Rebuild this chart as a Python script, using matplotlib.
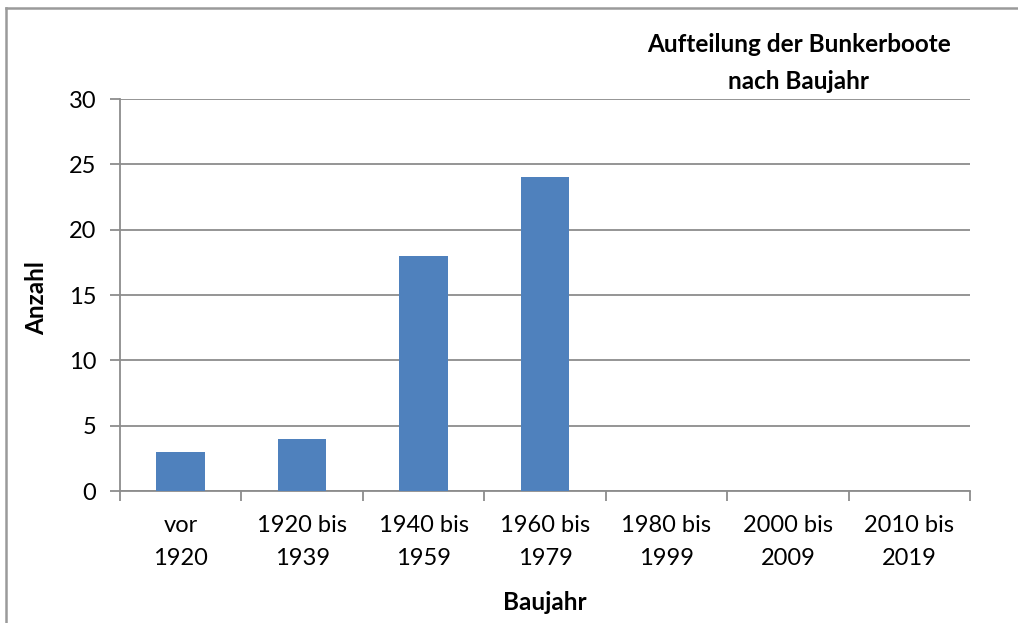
import matplotlib.pyplot as plt
import numpy as np
from matplotlib.lines import Line2D

# Bunkerboote nach Baujahr
categories = ['vor\n1920', '1920 bis\n1939', '1940 bis\n1959', '1960 bis\n1979',
              '1980 bis\n1999', '2000 bis\n2009', '2010 bis\n2019']
counts = [3, 4, 18, 24, 0, 0, 0]
y_ticks = [0, 5, 10, 15, 20, 25, 30]

plt.rcParams['font.family'] = ['Lato', 'DejaVu Sans']

W, H = 1018, 623
fig = plt.figure(figsize=(W / 100, H / 100), dpi=100)
fig.patch.set_facecolor('white')

# frame around the chart (only top and left edge fall inside the image)
frame_col = '#9a9a9a'
fig.add_artist(Line2D([6 / W, 1.0], [1 - 8 / H, 1 - 8 / H], color=frame_col, lw=1.8,
                      transform=fig.transFigure))
fig.add_artist(Line2D([6 / W, 6 / W], [0.0, 1 - 8 / H], color=frame_col, lw=1.8,
                      transform=fig.transFigure))

ax = fig.add_axes([120 / W, 1 - 491 / H, 850 / W, 392 / H])

x = np.arange(len(categories))
ax.bar(x, counts, width=0.40, color='#4F81BD', zorder=3)

grid_col = '#8c8c8c'
ax.set_xlim(-0.5, len(categories) - 0.5)
ax.set_ylim(0, 30)
ax.set_yticks(y_ticks)
ax.yaxis.grid(True, color=grid_col, lw=1.3)
ax.set_axisbelow(True)

for side in ['top', 'right']:
    ax.spines[side].set_visible(False)
for side in ['left', 'bottom']:
    ax.spines[side].set_color(grid_col)
    ax.spines[side].set_linewidth(1.3)

# major x ticks on the category borders, labels centred on the bars
ax.set_xticks(np.arange(-0.5, len(categories), 1.0))
ax.set_xticklabels([])
ax.set_xticks(x, minor=True)
ax.set_xticklabels(categories, minor=True, fontsize=17, linespacing=1.75)
ax.tick_params(axis='x', which='major', direction='out', length=7, width=1.3, color=grid_col)
ax.tick_params(axis='x', which='minor', length=0, pad=17)
ax.tick_params(axis='y', direction='out', length=7, width=1.3, color=grid_col,
               labelsize=17, pad=10)

# axis titles and chart title
fig.text(37 / W, 1 - 298 / H, 'Anzahl', rotation=90, ha='center', va='center',
         fontsize=17.5, fontweight='bold')
fig.text(545 / W, 1 - 602 / H, 'Baujahr', ha='center', va='center',
         fontsize=17.5, fontweight='bold')
fig.text(799 / W, 1 - 63 / H, 'Aufteilung der Bunkerboote\nnach Baujahr',
         ha='center', va='center', fontsize=17.5, fontweight='bold', linespacing=1.75)

fig.savefig('out.png', dpi=100, facecolor='white')
